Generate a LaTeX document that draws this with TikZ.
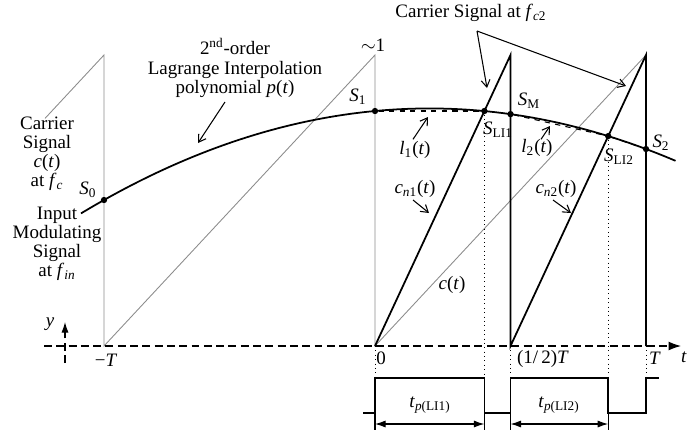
\documentclass[tikz,border=0pt]{standalone}
\usepackage{fontspec}
\setmainfont{Liberation Serif}
\usetikzlibrary{arrows.meta}
\newcommand{\vi}[1]{\textit{#1}}
\newcommand{\sub}[1]{\textsubscript{#1}}
\begin{document}
\begin{tikzpicture}[x=0.02cm,y=-0.02cm,
  every node/.style={font=\fontsize{10.8}{10.9}\selectfont, inner sep=1pt},
  gray line/.style={draw=black!45, line width=0.5pt},
  saw/.style={draw=black, line width=1pt},
  curve/.style={draw=black, line width=1pt},
  axisline/.style={draw=black, line width=0.6pt, dash pattern=on 4.5pt off 2.5pt},
  dotline/.style={draw=black, line width=0.5pt, dotted},
  pulse/.style={draw=black, line width=0.9pt},
  pointer/.style={draw=black, line width=0.6pt, -{Straight Barb[length=4pt,width=5pt]}},
  dimarrow/.style={draw=black, line width=0.6pt, {Latex[length=6pt,width=4pt]}-{Latex[length=6pt,width=4pt]}},
  dot/.style={circle, fill=black, inner sep=0pt, minimum size=3.6pt},
  txt/.style={align=center}]
\useasboundingbox (0,0) rectangle (697,434);
% key coordinates
\coordinate (mT) at (104,346);
\coordinate (mTtop) at (104,55);
\coordinate (O) at (375,346);
\coordinate (Otop) at (375,55);
\coordinate (H) at (510.5,346);
\coordinate (Htop) at (510.5,55);
\coordinate (Tb) at (646,346);
\coordinate (Ttop) at (646,55);
\coordinate (prev) at (45,118.4);
\coordinate (axL) at (44,346);
\coordinate (axR) at (681,346);
\coordinate (ylo) at (65,363);
\coordinate (yhi) at (65,322);
% gray carrier
\draw[gray line] (prev) -- (mTtop) -- (mT) -- (Otop) -- (O) -- (Ttop);
% axis
\draw[axisline, -{Latex[length=7pt,width=5pt]}] (axL) -- (axR);
\draw[axisline, -{Latex[length=6pt,width=4pt]}] (ylo) -- (yhi);
% curve
\draw[curve] plot[domain=-1.085:1.11, samples=80] ({375+271*\x},{111-25.5*\x+63.5*\x*\x});
% sample points
\node[dot] (S0) at (104,200) {};
\node[dot] (S1) at (375,111) {};
\node[dot] (SM) at (510.5,114.1) {};
\node[dot] (S2) at (646,149) {};
\node[dot] (SL1) at (484.4,111) {};
\node[dot] (SL2) at (608.2,136.1) {};
% fc2 sawtooth
\draw[saw] (O) -- (Htop) -- (H) -- (Ttop) -- (Tb);
% linear interpolants
\draw[dashed, line width=0.6pt] (S1) -- (SL1);
\draw[dashed, line width=0.6pt] (SM) -- (SL2) -- (S2);
% pulse train
\coordinate (p0) at (363,413);
\coordinate (a1) at (375,378);
\coordinate (a2) at (484.4,378);
\coordinate (a3) at (510.5,378);
\coordinate (a4) at (608.2,378);
\coordinate (a5) at (646,378);
\coordinate (pend) at (659,378);
\coordinate (b1) at (375,413);
\coordinate (b2) at (484.4,413);
\coordinate (b3) at (510.5,413);
\coordinate (b4) at (608.2,413);
\coordinate (b5) at (646,413);
\draw[pulse] (p0) -- (b1) -- (a1) -- (a2) -- (b2) -- (b3) -- (a3) -- (a4) -- (b4) -- (b5) -- (a5) -- (pend);
% dotted drops
\draw[dotline] (O) -- (a1);
\draw[dotline] (SL1) -- (a2);
\draw[dotline] (H) -- (a3);
\draw[dotline] (SL2) -- (a4);
\draw[dotline] (Tb) -- (a5);
% extension lines and dimension arrows
\coordinate (e1) at (375,430);
\coordinate (e2) at (484.4,430);
\coordinate (e3) at (510.5,430);
\coordinate (e4) at (608.2,430);
\draw[line width=0.6pt] (b1) -- (e1) (b2) -- (e2) (b3) -- (e3) (b4) -- (e4);
\coordinate (d1) at (375,424);
\coordinate (d2) at (484.4,424);
\coordinate (d3) at (510.5,424);
\coordinate (d4) at (608.2,424);
\draw[dimarrow] (d1) -- (d2);
\draw[dimarrow] (d3) -- (d4);
\node (tp1) at (430,405) {\vi{t}\sub{\vi{p}(LI1)}};
\node (tp2) at (559,405) {\vi{t}\sub{\vi{p}(LI2)}};
% axis labels
\node (lmT) at (106,360) {−\vi{T}};
\node (l0) at (381,358) {0};
\node (lH) at (543,359) {(1/\,2)\vi{T}};
\node (lT) at (655,358) {\vi{T}};
\node (lt) at (684,357) {\vi{t}};
\node (ly) at (50,324) {\vi{y}};
\node (lone) at (373,45) {$\sim$1};
% point labels
\node (tS0) at (88,190) {\vi{S}\sub{0}};
\node (tS1) at (358,97) {\vi{S}\sub{1}};
\node (tSM) at (529,101) {\vi{S}\sub{M}};
\node (tS2) at (661,143) {\vi{S}\sub{2}};
\node (tSL1) at (498,130) {\vi{S}\sub{LI1}};
\node (tSL2) at (619,157) {\vi{S}\sub{LI2}};
% interpolant labels
\node (tl1) at (415,150) {\vi{l}\sub{1}(\vi{t})};
\node (tl2) at (537,148) {\vi{l}\sub{2}(\vi{t})};
\coordinate (l1tip) at (428,117);
\coordinate (l2tip) at (550,126);
\draw[pointer] (tl1.north) ++(-2,0) -- (l1tip);
\draw[pointer] (tl2.north) ++(4,2) -- (l2tip);
% carrier labels
\node (tcn1) at (415,189) {\vi{c}\sub{\vi{n}1}(\vi{t})};
\node (tcn2) at (556,189) {\vi{c}\sub{\vi{n}2}(\vi{t})};
\coordinate (cn1tip) at (429,213);
\coordinate (cn2tip) at (571,213);
\draw[pointer] (413,200) -- (cn1tip);
\draw[pointer] (553,200) -- (cn2tip);
\node (tc) at (452,285) {\vi{c}(\vi{t})};
% top labels
\node (tcar2) at (471,13) {Carrier Signal at \vi{f}\sub{\vi{c}2}};
\coordinate (cs) at (477,31);
\coordinate (cstip1) at (487,88);
\coordinate (cstip2) at (626,86);
\draw[pointer] (cs) -- (cstip1);
\draw[pointer] (cs) -- (cstip2);
\node[txt] (tlag) at (235,68) {2\textsuperscript{nd}-order\\Lagrange Interpolation\\polynomial \vi{p}(\vi{t})};
\coordinate (lagtip) at (198,143);
\draw[pointer] (225,102) -- (lagtip);
\node[txt] (tcar) at (47,154) {Carrier\\Signal\\\vi{c}(\vi{t})\\at \vi{f}\sub{\vi{c}}};
\node[txt] (tin) at (57,244) {Input\\Modulating\\Signal\\at \vi{f}\sub{\vi{in}}};
\end{tikzpicture}
\end{document}
